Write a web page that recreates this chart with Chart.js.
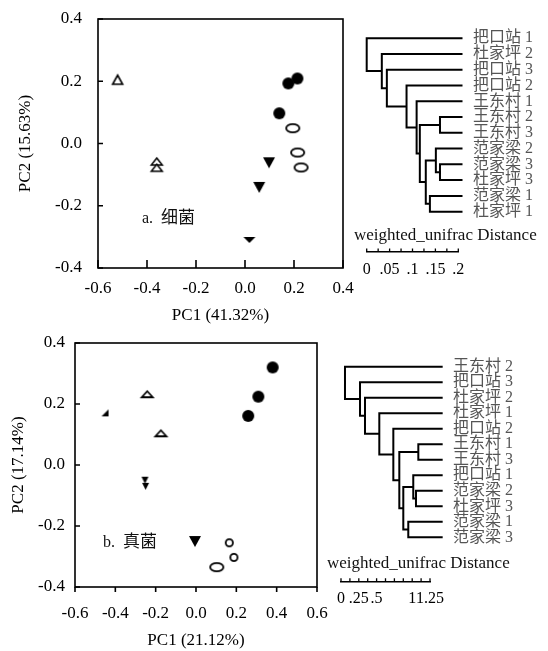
<!DOCTYPE html>
<html>
<head>
<meta charset="utf-8">
<script src="https://cdn.jsdelivr.net/npm/chart.js@4.4.0/dist/chart.umd.min.js"></script>
<style>
  body { margin: 0; background: #fff; }
  #wrap { position: relative; width: 548px; height: 651px; overflow: hidden; }
  canvas { position: absolute; }
  .txt { position: absolute; white-space: pre; color: #111; line-height: 1;
         font-family: 'Liberation Serif', 'Noto Sans CJK SC', serif; }
</style>
</head>
<body>
<div id="wrap">
  <canvas id="pcaA" width="360" height="330" style="left:0;top:0"></canvas>
  <canvas id="pcaB" width="345" height="321" style="left:0;top:330px"></canvas>
  <canvas id="treeA" width="203" height="275" style="left:345px;top:15px"></canvas>
  <canvas id="treeB" width="223" height="285" style="left:325px;top:340px"></canvas>
  <div class="txt" style="left:142px;top:209px;font-size:16px">a.  <span style="font-size:17px">细菌</span></div>
  <div class="txt" style="left:103px;top:533px;font-size:16px">b.  <span style="font-size:17px">真菌</span></div>
  <div class="txt" style="left:354px;top:226px;font-size:17px">weighted_unifrac Distance</div>
  <div class="txt" style="left:327px;top:554px;font-size:17px">weighted_unifrac Distance</div>
</div>
<script>
// ---- a. bacteria PCoA (PC1 41.32%, PC2 15.63%)
const bacTriX  = [-0.52, -0.36, -0.36];
const bacTriY  = [0.205, -0.058, -0.078];
const bacDotX  = [0.177, 0.214, 0.14];
const bacDotY  = [0.193, 0.209, 0.097];
const bacRingX = [0.195, 0.215, 0.229];
const bacRingY = [0.049, -0.029, -0.077];
const bacDownX = [0.098, 0.058, 0.018];
const bacDownY = [-0.062, -0.141, -0.31];

// ---- b. fungi PCoA (PC1 21.12%, PC2 17.14%)
const funTriX  = [-0.242, -0.174, -0.451];
const funTriY  = [0.232, 0.104, 0.171];
const funDotX  = [0.38, 0.309, 0.259];
const funDotY  = [0.32, 0.224, 0.161];
const funRingX = [0.165, 0.188, 0.103];
const funRingY = [-0.255, -0.303, -0.335];
const funDownX = [-0.005, -0.253, -0.25];
const funDownY = [-0.251, -0.05, -0.07];

// ---- dendrograms: joins [childA, childB, distance]; numbers = leaf index, 'n#' = earlier join
const bacLeaves = ['把口站 1', '杜家坪 2', '把口站 3', '把口站 2', '王东村 1', '王东村 2',
                   '王东村 3', '范家梁 2', '范家梁 3', '杜家坪 3', '范家梁 1', '杜家坪 1'];
const bacJoinA = [5, 8, 7, 10, 'n2', 'n0', 4, 3, 2, 1, 0];
const bacJoinB = [6, 9, 'n1', 11, 'n3', 'n4', 'n5', 'n6', 'n7', 'n8', 'n9'];
const bacJoinD = [0.160, 0.160, 0.151, 0.138, 0.129, 0.116, 0.109, 0.087, 0.044, 0.033, 0.0];
const bacLeafD = 0.207;
const bacScaleLabels = [0, 0.05, 0.1, 0.15, 0.2];

const funLeaves = ['王东村 2', '把口站 3', '杜家坪 2', '杜家坪 1', '把口站 2', '王东村 1',
                   '王东村 3', '把口站 1', '范家梁 2', '杜家坪 3', '范家梁 1', '范家梁 3'];
const funJoinA = [5, 8, 7, 10, 'n2', 'n0', 4, 3, 2, 1, 0];
const funJoinB = [6, 9, 'n1', 11, 'n3', 'n4', 'n5', 'n6', 'n7', 'n8', 'n9'];
const funJoinD = [1.086, 1.053, 1.015, 0.945, 0.875, 0.819, 0.735, 0.538, 0.337, 0.267, 0.056];
const funLeafD = 1.414;
const funScaleLabels = [0, 0.25, 0.5, 1, 1.25];

const SERIF = "'Liberation Serif', 'Noto Sans CJK SC', serif";
const LABELF = "'Liberation Serif', 'Noto Sans CJK SC', sans-serif";

// frame + inward tick marks
const inTicks = {
  id: 'inTicks',
  afterDraw(chart, args, o) {
    const {ctx, chartArea: a, scales} = chart;
    ctx.save();
    ctx.strokeStyle = '#000';
    ctx.lineWidth = o.lw || 1.5;
    if (o.frame) ctx.strokeRect(a.left, a.top, a.right - a.left, a.bottom - a.top);
    ctx.beginPath();
    if (o.x) scales.x.ticks.forEach(t => {
      const px = scales.x.getPixelForValue(t.value);
      ctx.moveTo(px, a.bottom); ctx.lineTo(px, a.bottom - o.x);
    });
    if (o.y) scales.y.ticks.forEach(t => {
      const py = scales.y.getPixelForValue(t.value);
      ctx.moveTo(a.left, py); ctx.lineTo(a.left + o.y, py);
    });
    ctx.stroke();
    ctx.restore();
  }
};
Chart.register(inTicks);

function marker(kind, w, h, lw) {
  lw = lw || 1;
  const p = Math.ceil(lw) + 1;
  const c = document.createElement('canvas');
  c.width = w + 2 * p; c.height = h + 2 * p;
  const g = c.getContext('2d');
  g.fillStyle = '#000'; g.strokeStyle = '#000'; g.lineWidth = lw; g.lineJoin = 'miter';
  g.beginPath();
  if (kind === 'dot') {
    g.ellipse(p + w / 2, p + h / 2, w / 2, h / 2, 0, 0, Math.PI * 2); g.fill();
  } else if (kind === 'ring') {
    g.ellipse(p + w / 2, p + h / 2, w / 2 - lw / 2, h / 2 - lw / 2, 0, 0, Math.PI * 2); g.stroke();
  } else if (kind === 'up') {
    g.moveTo(p + w / 2, p); g.lineTo(p + w, p + h); g.lineTo(p, p + h); g.closePath();
    g.fillStyle = '#fff'; g.fill(); g.stroke();
  } else if (kind === 'down') {
    g.moveTo(p, p); g.lineTo(p + w, p); g.lineTo(p + w / 2, p + h); g.closePath(); g.fill();
  } else if (kind === 'corner') {
    g.moveTo(p + w, p); g.lineTo(p + w, p + h); g.lineTo(p, p + h); g.closePath(); g.fill();
  }
  return c;
}

function pts(xs, ys) { return xs.map((x, i) => ({x: x, y: ys[i]})); }
function set(xs, ys, styles) {
  return {data: pts(xs, ys), pointStyle: styles, pointRadius: 5, clip: false, showLine: false};
}
function fmt1(v) { return Math.abs(v) < 1e-9 ? '0.0' : v.toFixed(1); }

// keep chart area exactly where the layout padding puts it
function fixX(h) { return s => { s.height = h; s.paddingLeft = 0; s.paddingRight = 0; }; }
function fixY(w) { return s => { s.width = w; s.paddingTop = 0; s.paddingBottom = 0; }; }

function pcaChart(id, sets, o) {
  const font = {family: SERIF, size: 17};
  return new Chart(document.getElementById(id), {
    type: 'scatter',
    data: {datasets: sets},
    options: {
      responsive: false, animation: false, events: [],
      layout: {padding: {top: o.padT, right: o.padR, left: 0, bottom: 0}},
      plugins: {legend: {display: false}, tooltip: {enabled: false},
                inTicks: {frame: true, x: o.tickX, y: 5, lw: 1.6}},
      scales: {
        x: {type: 'linear', min: o.xMin, max: o.xMax,
            grid: {display: false, drawTicks: false}, border: {display: false},
            ticks: {stepSize: 0.2, padding: o.xPad, color: '#000', font: font,
                    autoSkip: false, maxRotation: 0, callback: v => fmt1(v)},
            title: {display: true, text: o.xTitle, color: '#000', font: font,
                    padding: {top: 0, bottom: o.xTitlePad}},
            afterFit: fixX(o.xH)},
        y: {type: 'linear', min: -0.4, max: 0.4,
            grid: {display: false, drawTicks: false}, border: {display: false},
            ticks: {stepSize: 0.2, padding: o.yPad, color: '#000', font: font,
                    autoSkip: false, callback: v => fmt1(v)},
            title: {display: true, text: o.yTitle, color: '#000', font: font,
                    padding: {top: o.yTitlePad, bottom: 0}},
            afterFit: fixY(o.yW)}
      }
    }
  });
}

function treePath(joinA, joinB, joinD, leafD) {
  const nodes = [];
  const at = c => typeof c === 'number' ? {x: leafD, y: c} : nodes[+c.slice(1)];
  const out = [];
  joinD.forEach((d, i) => {
    const a = at(joinA[i]), b = at(joinB[i]);
    out.push({x: a.x, y: a.y}, {x: d, y: a.y}, {x: d, y: b.y}, {x: b.x, y: b.y}, {x: null, y: null});
    nodes.push({x: d, y: (a.y + b.y) / 2});
  });
  return out;
}

function treeChart(id, leaves, path, labels, o) {
  const near = v => labels.find(l => Math.abs(l - v) < 1e-6);
  return new Chart(document.getElementById(id), {
    type: 'scatter',
    data: {datasets: [{data: path, showLine: true, spanGaps: false, pointRadius: 0,
                       borderColor: '#000', borderWidth: 2, borderCapStyle: 'square', clip: false}]},
    options: {
      responsive: false, animation: false, events: [],
      layout: {padding: {left: o.padL, top: o.padT, right: 0, bottom: 0}},
      plugins: {legend: {display: false}, tooltip: {enabled: false},
                inTicks: {frame: false, x: 3.5, lw: 1.3}},
      scales: {
        x: {type: 'linear', min: 0, max: o.max,
            grid: {display: false, drawTicks: false}, border: {color: '#000', width: 1.5},
            ticks: {stepSize: o.step, padding: o.xPad, color: '#000', autoSkip: false, maxRotation: 0,
                    font: {family: SERIF, size: 16},
                    callback: v => {
                      const l = near(v);
                      return l === undefined ? '' : String(l).replace(/^0\./, '.');
                    }},
            afterFit: fixX(o.xH)},
        y: {type: 'linear', position: 'right', reverse: true, min: -1, max: o.yMax,
            grid: {display: false, drawTicks: false}, border: {display: false},
            afterBuildTicks: s => { s.ticks = leaves.map((_, i) => ({value: i})); },
            ticks: {autoSkip: false, padding: o.yPad, color: '#555',
                    font: {family: LABELF, size: 16}, callback: v => leaves[v]},
            afterFit: fixY(o.yW)}
      }
    }
  });
}

pcaChart('pcaA', [
  set(bacTriX, bacTriY, [marker('up', 10, 9, 1.6), marker('up', 11, 7, 1.5), marker('up', 11, 7, 1.5)]),
  set(bacDotX, bacDotY, [marker('dot', 12, 12), marker('dot', 12, 12), marker('dot', 12, 12)]),
  set(bacRingX, bacRingY, [marker('ring', 15, 10, 1.8), marker('ring', 15, 10, 1.8), marker('ring', 15, 10, 1.8)]),
  set(bacDownX, bacDownY, [marker('down', 12, 11), marker('down', 12, 11), marker('down', 12, 6)])
], {padT: 19, padR: 17, xMin: -0.6, xMax: 0.4, xH: 62, yW: 98, tickX: 8,
    xPad: 10, yPad: 16, xTitle: 'PC1 (41.32%)', xTitlePad: 4,
    yTitle: 'PC2 (15.63%)', yTitlePad: 15});

pcaChart('pcaB', [
  set(funTriX, funTriY, [marker('up', 11, 6, 1.8), marker('up', 11, 6, 1.8), marker('corner', 7, 7)]),
  set(funDotX, funDotY, [marker('dot', 12, 12), marker('dot', 12, 12), marker('dot', 12, 12)]),
  set(funRingX, funRingY, [marker('ring', 9, 9, 1.8), marker('ring', 9, 9, 1.8), marker('ring', 15, 10, 1.8)]),
  set(funDownX, funDownY, [marker('down', 12, 11), marker('down', 7, 7), marker('down', 7, 7)])
], {padT: 13, padR: 28, xMin: -0.6, xMax: 0.6, xH: 64, yW: 75, tickX: -5,
    xPad: 16, yPad: 10, xTitle: 'PC1 (21.12%)', xTitlePad: 0,
    yTitle: 'PC2 (17.14%)', yTitlePad: 8});

treeChart('treeA', bacLeaves, treePath(bacJoinA, bacJoinB, bacJoinD, bacLeafD), bacScaleLabels,
  {padL: 21.7, padT: 7.5, max: 0.2, step: 0.025, xH: 38, xPad: 8, yMax: 13.56, yW: 89.7, yPad: 14.7});

treeChart('treeB', funLeaves, treePath(funJoinA, funJoinB, funJoinD, funLeafD), funScaleLabels,
  {padL: 16, padT: 11.2, max: 1.25, step: 0.125, xH: 43.3, xPad: 7, yMax: 13.86, yW: 118, yPad: 23});
</script>
</body>
</html>
